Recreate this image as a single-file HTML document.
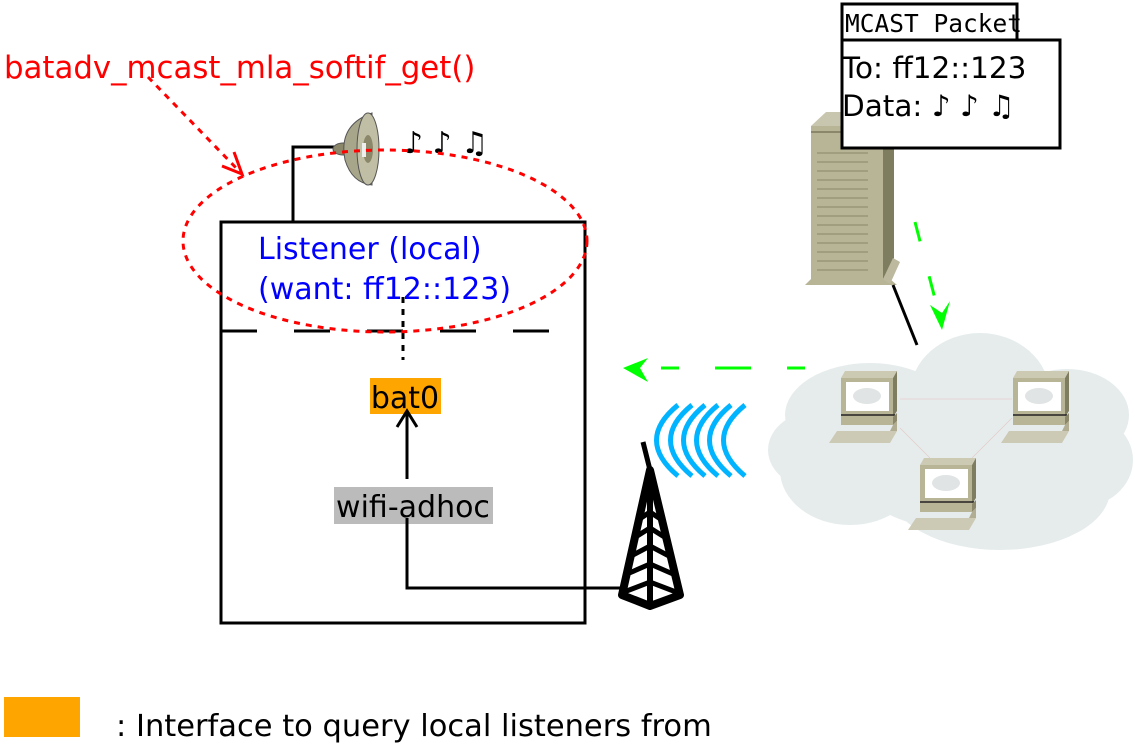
<!DOCTYPE html>
<html><head><meta charset="utf-8"><style>
html,body{margin:0;padding:0;background:#fff;}
svg{display:block;}
text{font-family:"DejaVu Sans","Liberation Sans",sans-serif;}
</style></head><body>
<svg width="1134" height="744" viewBox="0 0 1134 744" xmlns="http://www.w3.org/2000/svg">
<defs>
<g id="lap">
  <polygon points="12,7 16,0 68,0 64,7" fill="#cdcab4"/>
  <rect x="12" y="7" width="52" height="39" fill="#b8b597"/>
  <polygon points="64,7 68,0 68,40 64,46" fill="#7f7d5f"/>
  <rect x="17" y="11" width="43" height="29" fill="#fff"/>
  <ellipse cx="38" cy="25" rx="14" ry="8" fill="#e0e4e4"/>
  <line x1="12" y1="44" x2="66" y2="44" stroke="#222" stroke-width="1.5"/>
  <rect x="12" y="46" width="52" height="8" fill="#b8b597"/>
  <polygon points="64,46 68,42 68,50 64,54" fill="#8a876a"/>
  <polygon points="0,72 8,60 68,60 61,72" fill="#ccc9b4"/>
  <polygon points="64,54 68,50 68,60 61,60" fill="#b0ad92"/>
</g>
</defs>

<g fill="#e6ecec">
  <ellipse cx="870" cy="415" rx="85" ry="52"/>
  <ellipse cx="980" cy="395" rx="70" ry="62"/>
  <ellipse cx="1067" cy="415" rx="62" ry="46"/>
  <ellipse cx="1077" cy="460" rx="56" ry="48"/>
  <ellipse cx="1000" cy="490" rx="110" ry="60"/>
  <ellipse cx="850" cy="470" rx="70" ry="55"/>
  <ellipse cx="820" cy="450" rx="52" ry="40"/>
  <ellipse cx="960" cy="450" rx="120" ry="80"/>
</g>
<g stroke="#e4cccc" stroke-width="0.8">
  <line x1="900" y1="399" x2="1012" y2="399"/>
  <line x1="900" y1="428" x2="930" y2="458"/>
  <line x1="1012" y1="418" x2="972" y2="458"/>
</g>
<use href="#lap" x="829" y="371"/>
<use href="#lap" x="1001" y="371"/>
<use href="#lap" x="908" y="458"/>

<polygon points="811,126 826,112 894,112 883,126" fill="#c8c6ae"/>
<rect x="811" y="126" width="72" height="153" fill="#b8b597"/>
<rect x="811" y="131" width="72" height="2" fill="#8a876a"/>
<polygon points="883,126 894,112 894,272 883,279" fill="#7f7d5f"/>
<g stroke="#8a876a" stroke-width="1">
  <line x1="817" y1="153" x2="868" y2="153"/><line x1="817" y1="162" x2="868" y2="162"/>
  <line x1="817" y1="171" x2="868" y2="171"/><line x1="817" y1="180" x2="868" y2="180"/>
  <line x1="817" y1="189" x2="868" y2="189"/><line x1="817" y1="198" x2="868" y2="198"/>
  <line x1="817" y1="207" x2="868" y2="207"/><line x1="817" y1="216" x2="868" y2="216"/>
  <line x1="817" y1="225" x2="868" y2="225"/><line x1="817" y1="234" x2="868" y2="234"/>
  <line x1="817" y1="243" x2="868" y2="243"/><line x1="817" y1="252" x2="868" y2="252"/>
  <line x1="817" y1="261" x2="868" y2="261"/><line x1="817" y1="270" x2="868" y2="270"/>
</g>
<polygon points="805,285 811,279 890,279 897,285" fill="#b8b597"/>
<polygon points="883,279 893,258 900,262 890,284" fill="#bcb99f"/>
<line x1="893" y1="285" x2="917" y2="345" stroke="#000" stroke-width="3"/>

<rect x="842" y="4" width="175" height="36" fill="#fff" stroke="#000" stroke-width="3"/>
<text x="845" y="32" font-size="24.5" style="font-family:'DejaVu Sans Mono','Liberation Mono',monospace">MCAST Packet</text>
<rect x="842" y="40" width="218" height="108" fill="#fff" stroke="#000" stroke-width="3"/>
<text x="842" y="78" font-size="29.5">To: ff12::123</text>
<text x="842" y="116" font-size="29.5">Data: ♪ ♪ ♫</text>

<line x1="915" y1="222" x2="940" y2="318" stroke="#00ff00" stroke-width="3" stroke-dasharray="20,36"/>
<polygon points="942,330 930,305 942,313 950,301" fill="#00ff00"/>
<line x1="805" y1="368" x2="640" y2="368" stroke="#00ff00" stroke-width="3" stroke-dasharray="18,36,36,36"/>
<polygon points="623,368 648,358 640,368 648,382" fill="#00ff00"/>

<g fill="none" stroke="#00b4ff" stroke-width="5">
  <path d="M678,405 Q635,440 678,476"/>
  <path d="M692,405 Q649,440 692,476"/>
  <path d="M705,405 Q662,440 705,476"/>
  <path d="M718,405 Q675,440 718,476"/>
  <path d="M731,405 Q688,440 731,476"/>
  <path d="M745,405 Q702,440 745,476"/>
</g>

<g stroke="#000" fill="none">
  <line x1="643" y1="442" x2="650" y2="470" stroke-width="5"/>
  <polygon points="650,470 622,595 650,606 680,595" stroke-width="8" stroke-linejoin="round"/>
  <line x1="650" y1="470" x2="650" y2="606" stroke-width="6"/>
  <path d="M638,520 L650,512 L662,520 M634,538 L650,528 L666,538 M631,556 L650,546 L669,556 M627,574 L650,564 L673,574 M624,592 L650,582 L676,592" stroke-width="5"/>
</g>

<rect x="221" y="222" width="364" height="401" fill="none" stroke="#000" stroke-width="3"/>
<line x1="221" y1="331" x2="585" y2="331" stroke="#000" stroke-width="3" stroke-dasharray="36,37"/>
<line x1="403" y1="297" x2="403" y2="360" stroke="#000" stroke-width="3" stroke-dasharray="6,6"/>

<polyline points="293,222 293,147 335,147" fill="none" stroke="#000" stroke-width="3"/>
<ellipse cx="343" cy="149" rx="10" ry="6" fill="#8a876a" stroke="#555" stroke-width="1"/>
<path d="M372,113 Q338,125 345,160 Q352,183 372,185 Z" fill="#a8a68a" stroke="#555" stroke-width="1"/>
<ellipse cx="368" cy="149" rx="11" ry="36" fill="#c0bea4" stroke="#555" stroke-width="1"/>
<ellipse cx="368" cy="149" rx="5" ry="14" fill="#8a876a"/>
<rect x="362" y="143" width="4" height="14" fill="#eee"/>
<text x="404" y="153" font-size="30">♪ ♪ ♫</text>

<text x="258" y="259" font-size="30" fill="#0000ff">Listener (local)</text>
<text x="258" y="299" font-size="30" fill="#0000ff">(want: ff12::123)</text>

<ellipse cx="385" cy="241" rx="202" ry="91" fill="none" stroke="#ff0000" stroke-width="3" stroke-dasharray="6,6"/>
<text x="4" y="78" font-size="30.8" fill="#ff0000">batadv_mcast_mla_softif_get()</text>
<line x1="148" y1="77" x2="240" y2="172" stroke="#ff0000" stroke-width="3" stroke-dasharray="6,6"/>
<polyline points="222,166 242,174 234,152" fill="none" stroke="#ff0000" stroke-width="3"/>

<rect x="370" y="378" width="71" height="36" fill="#ffa500"/>
<text x="405" y="408" font-size="30" text-anchor="middle">bat0</text>
<line x1="407" y1="479" x2="407" y2="412" stroke="#000" stroke-width="3"/>
<polyline points="397,427 407,411 417,427" fill="none" stroke="#000" stroke-width="3"/>

<rect x="334" y="487" width="159" height="37" fill="#bbbbbb"/>
<text x="413" y="517" font-size="30" text-anchor="middle">wifi-adhoc</text>
<polyline points="407,518 407,588 625,588" fill="none" stroke="#000" stroke-width="3"/>

<rect x="4" y="697" width="76" height="40" fill="#ffa500"/>
<text x="116" y="736" font-size="30.5">: Interface to query local listeners from</text>
</svg>
</body></html>
